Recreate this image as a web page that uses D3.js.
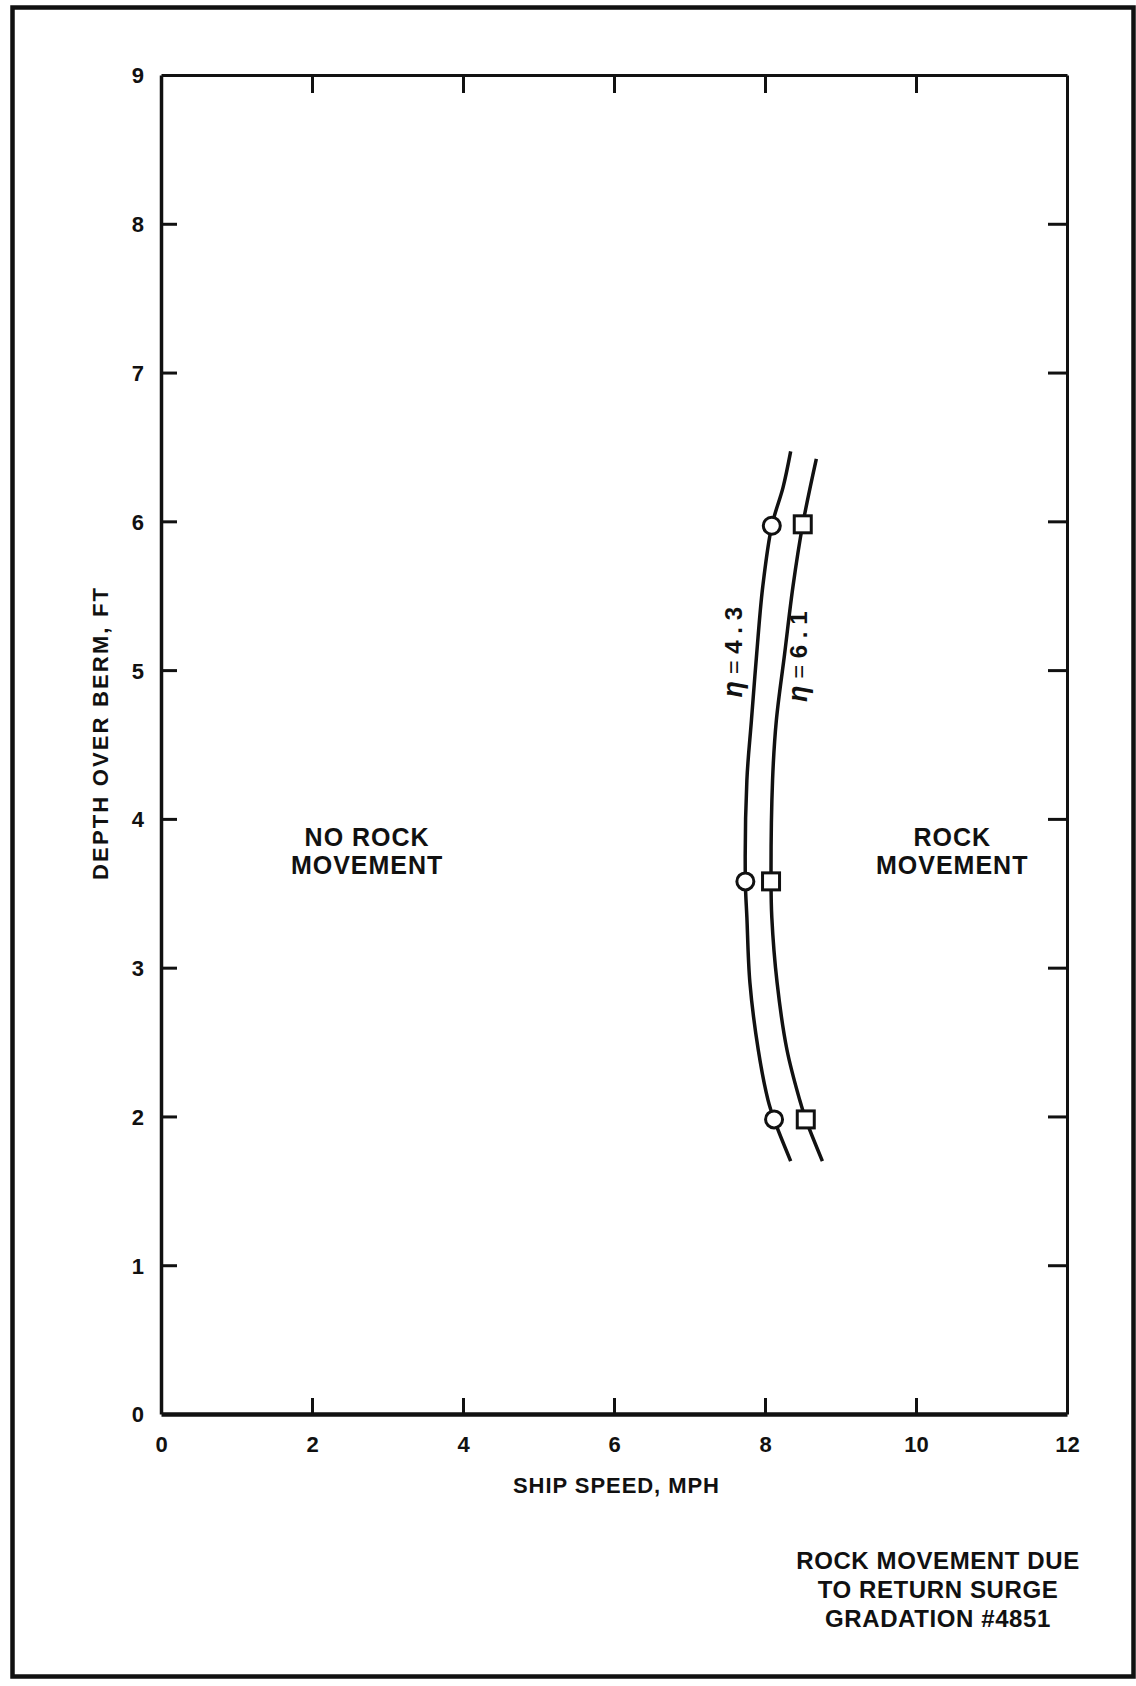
<!DOCTYPE html>
<html>
<head>
<meta charset="utf-8">
<script src="https://cdn.jsdelivr.net/npm/d3@7"></script>
<style>
  html, body { margin: 0; padding: 0; background: #fff; }
  svg { display: block; }
  text { font-family: "Liberation Sans", Arial, Helvetica, sans-serif; font-weight: bold; fill: #111; }
</style>
</head>
<body>
<svg id="chart" width="1136" height="1686"></svg>
<script>
// ---------------- data ----------------
const xTickValues = [0, 2, 4, 6, 8, 10, 12];
const yTickValues = [0, 1, 2, 3, 4, 5, 6, 7, 8, 9];
const xInnerTicks = [2, 4, 6, 8, 10];
const yInnerTicks = [1, 2, 3, 4, 5, 6, 7, 8];

// curve eta = 4.3 (ship speed, depth)
const eta43Speed = [8.34, 8.24, 8.09, 7.97, 7.89, 7.82, 7.76, 7.74, 7.76, 7.80, 7.91, 8.04, 8.12, 8.34];
const eta43Depth = [6.47, 6.23, 5.97, 5.56, 5.11, 4.66, 4.26, 3.58, 3.34, 2.90, 2.45, 2.11, 1.98, 1.70];
// curve eta = 6.1
const eta61Speed = [8.68, 8.50, 8.37, 8.26, 8.15, 8.10, 8.08, 8.09, 8.16, 8.29, 8.46, 8.54, 8.76];
const eta61Depth = [6.42, 5.98, 5.56, 5.11, 4.66, 4.26, 3.58, 3.34, 2.90, 2.45, 2.11, 1.98, 1.70];

// measured points
const circleSpeed = [8.09, 7.74, 8.12];
const circleDepth = [5.97, 3.58, 1.98];
const squareSpeed = [8.50, 8.08, 8.54];
const squareDepth = [5.98, 3.58, 1.98];

const xTitle = "SHIP SPEED, MPH";
const yTitle = "DEPTH OVER BERM, FT";
const leftRegion = ["NO ROCK", "MOVEMENT"];
const rightRegion = ["ROCK", "MOVEMENT"];
const noteLines = ["ROCK MOVEMENT DUE", "TO RETURN SURGE", "GRADATION #4851"];
const eta43Label = "4.3";
const eta61Label = "6.1";

// ---------------- layout ----------------
const svg = d3.select("#chart");
const plot = { left: 161, right: 1067, top: 75, bottom: 1414 };

const x = d3.scaleLinear().domain([0, 12]).range([plot.left, plot.right]);
const y = d3.scaleLinear().domain([0, 9]).range([plot.bottom, plot.top]);

// outer frame
svg.append("rect")
  .attr("x", 12.5).attr("y", 7.5).attr("width", 1121).attr("height", 1669)
  .attr("fill", "none").attr("stroke", "#111").attr("stroke-width", 4.5);

// axes
const gLeft = svg.append("g").attr("transform", `translate(${plot.left},0)`)
  .call(d3.axisLeft(y).tickValues(yTickValues).tickSizeInner(0).tickSizeOuter(0).tickPadding(17).tickFormat(d3.format("d")));
const gBottom = svg.append("g").attr("transform", `translate(0,${plot.bottom})`)
  .call(d3.axisBottom(x).tickValues(xTickValues).tickSizeInner(0).tickSizeOuter(0).tickPadding(22).tickFormat(d3.format("d")));
const gTop = svg.append("g").attr("transform", `translate(0,${plot.top})`)
  .call(d3.axisTop(x).tickValues(xInnerTicks).tickSizeInner(-18).tickSizeOuter(0).tickFormat(""));
const gRight = svg.append("g").attr("transform", `translate(${plot.right},0)`)
  .call(d3.axisRight(y).tickValues(yInnerTicks).tickSizeInner(-19).tickSizeOuter(0).tickFormat(""));
const gLeftTicks = svg.append("g").attr("transform", `translate(${plot.left},0)`)
  .call(d3.axisLeft(y).tickValues(yInnerTicks).tickSizeInner(-16).tickSizeOuter(0).tickFormat(""));
const gBottomTicks = svg.append("g").attr("transform", `translate(0,${plot.bottom})`)
  .call(d3.axisBottom(x).tickValues(xInnerTicks).tickSizeInner(-16).tickSizeOuter(0).tickFormat(""));

[gLeft, gBottom, gTop, gRight, gLeftTicks, gBottomTicks].forEach(g => {
  g.selectAll("path.domain").attr("stroke", "#111");
  g.selectAll(".tick line").attr("stroke", "#111").attr("stroke-width", 3);
  g.selectAll(".tick text").attr("font-size", 22).attr("fill", "#111")
    .attr("font-family", '"Liberation Sans", Arial, sans-serif').attr("font-weight", "bold");
});
gLeft.select("path.domain").attr("stroke-width", 3.5);
gBottom.select("path.domain").attr("stroke-width", 4.5);
gTop.select("path.domain").attr("stroke-width", 3);
gRight.select("path.domain").attr("stroke-width", 3);
gLeftTicks.select("path.domain").remove();
gBottomTicks.select("path.domain").remove();
gLeft.selectAll(".tick text").attr("dy", "0.36em");

// axis titles
svg.append("text")
  .attr("x", (plot.left + plot.right) / 2 + 2).attr("y", 1493)
  .attr("text-anchor", "middle").attr("font-size", 22)
  .attr("textLength", 206).attr("lengthAdjust", "spacing")
  .text(xTitle);
svg.append("text")
  .attr("transform", `translate(108,${734}) rotate(-90)`)
  .attr("text-anchor", "middle").attr("font-size", 22)
  .attr("textLength", 292).attr("lengthAdjust", "spacing")
  .text(yTitle);

// curves
const line = d3.line().x(d => x(d[0])).y(d => y(d[1])).curve(d3.curveCatmullRom.alpha(0.5));
const eta43 = eta43Speed.map((s, i) => [s, eta43Depth[i]]);
const eta61 = eta61Speed.map((s, i) => [s, eta61Depth[i]]);
svg.append("path").datum(eta43).attr("d", line)
  .attr("fill", "none").attr("stroke", "#111").attr("stroke-width", 3.5);
svg.append("path").datum(eta61).attr("d", line)
  .attr("fill", "none").attr("stroke", "#111").attr("stroke-width", 3.5);

// markers
svg.selectAll("circle.pt").data(circleSpeed.map((s, i) => [s, circleDepth[i]]))
  .enter().append("circle").attr("class", "pt")
  .attr("cx", d => x(d[0])).attr("cy", d => y(d[1])).attr("r", 8.5)
  .attr("fill", "#fff").attr("stroke", "#111").attr("stroke-width", 3);
svg.selectAll("rect.pt").data(squareSpeed.map((s, i) => [s, squareDepth[i]]))
  .enter().append("rect").attr("class", "pt")
  .attr("x", d => x(d[0]) - 8.5).attr("y", d => y(d[1]) - 8.5)
  .attr("width", 17).attr("height", 17)
  .attr("fill", "#fff").attr("stroke", "#111").attr("stroke-width", 3);

// eta labels (rotated)
function etaLabel(cx, cy, val) {
  const t = svg.append("text")
    .attr("transform", `translate(${cx},${cy}) rotate(-90)`)
    .attr("text-anchor", "middle").attr("font-size", 24).attr("dy", "0.35em");
  t.append("tspan").attr("font-style", "italic").attr("font-size", 27).text("η");
  t.append("tspan").attr("font-weight", "normal").text(" = ");
  t.append("tspan").text(val.split("").join(" "));
}
etaLabel(x(7.58), y(5.12), eta43Label);
etaLabel(x(8.44), y(5.09), eta61Label);

// region labels
function block(lines, cx, cy, size, lh, ls) {
  lines.forEach((s, i) => {
    svg.append("text").attr("x", cx).attr("y", cy + i * lh)
      .attr("text-anchor", "middle").attr("font-size", size)
      .attr("letter-spacing", ls).attr("dy", "0.36em").text(s);
  });
}
block(leftRegion, x(2.73), y(3.88), 25, 28, 1);
block(rightRegion, x(10.48), y(3.88), 25, 28, 1);

// note
block(noteLines, 938, 1560, 24, 29, 0.6);
</script>
</body>
</html>
